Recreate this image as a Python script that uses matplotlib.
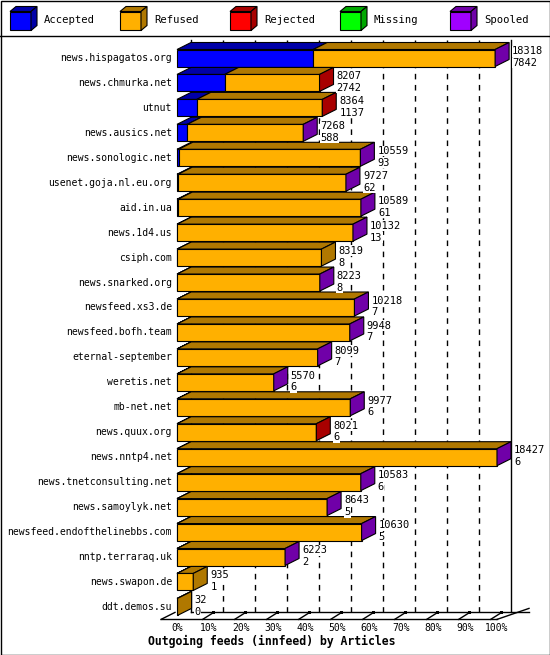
import matplotlib
matplotlib.use("Agg")
import matplotlib.pyplot as plt
from matplotlib.patches import Polygon, Rectangle

hosts = ["news.hispagatos.org","news.chmurka.net","utnut","news.ausics.net","news.sonologic.net",
         "usenet.goja.nl.eu.org","aid.in.ua","news.1d4.us","csiph.com","news.snarked.org",
         "newsfeed.xs3.de","newsfeed.bofh.team","eternal-september","weretis.net","mb-net.net",
         "news.quux.org","news.nntp4.net","news.tnetconsulting.net","news.samoylyk.net",
         "newsfeed.endofthelinebbs.com","nntp.terraraq.uk","news.swapon.de","ddt.demos.su"]
offered = [18318,8207,8364,7268,10559,9727,10589,10132,8319,8223,10218,9948,8099,5570,9977,8021,18427,10583,8643,10630,6223,935,32]
accepted = [7842,2742,1137,588,93,62,61,13,8,8,7,7,7,6,6,6,6,6,5,5,2,1,0]
endcap = ["Spooled","Rejected","Rejected","Spooled","Spooled","Spooled","Spooled","Spooled","Refused",
          "Spooled","Spooled","Spooled","Spooled","Spooled","Spooled","Rejected","Spooled","Spooled",
          "Spooled","Spooled","Spooled","Refused","Refused"]
series = ["Accepted","Refused","Rejected","Missing","Spooled"]
ticks = ["0%","10%","20%","30%","40%","50%","60%","70%","80%","90%","100%"]
title = "Outgoing feeds (innfeed) by Articles"

front = {"Accepted":"#0000FF","Refused":"#FFB000","Rejected":"#FF0000","Missing":"#00FF00","Spooled":"#A000FF"}
dark = {"Accepted":"#0000A8","Refused":"#B07800","Rejected":"#A80000","Missing":"#00A800","Spooled":"#7000A8"}

W, H = 550, 655
fig = plt.figure(figsize=(5.5, 6.55), dpi=100)
ax = fig.add_axes([0, 0, 1, 1])
X0, XS = 177, 3.2
Y0, YS = 58, 24.95
ax.set_xlim((0 - X0) / XS, (W - X0) / XS)
ax.set_ylim((H - Y0) / YS, (0 - Y0) / YS)
ax.axis("off")
px = 1 / XS; py = 1 / YS
DX, DY = 14 * px, -7 * py
BH = 17 * py
mono = "DejaVu Sans Mono"
fs = 7.0
wb = dict(fc="white", ec="none", pad=0.3)

ax.add_patch(Rectangle(((0.5 - X0) / XS, (0.5 - Y0) / YS), (W - 1) * px, (H - 1) * py,
                       fill=False, ec="black", lw=1, zorder=10))
ax.plot([(0 - X0) / XS, (W - X0) / XS], [(36 - Y0) / YS] * 2, color="black", lw=1)

def box3d(x0, x1, yc, h, key, z=3, dx=DX, dy=DY):
    yt, yb = yc - h / 2, yc + h / 2
    ax.add_patch(Polygon([(x0, yt), (x0 + dx, yt + dy), (x1 + dx, yt + dy), (x1, yt)],
                         fc=dark[key], ec="black", lw=0.8, zorder=z))
    ax.add_patch(Polygon([(x0, yt), (x1, yt), (x1, yb), (x0, yb)],
                         fc=front[key], ec="black", lw=0.8, zorder=z))

def side(x1, yc, h, key, z=3, dx=DX, dy=DY):
    yt, yb = yc - h / 2, yc + h / 2
    ax.add_patch(Polygon([(x1, yt), (x1 + dx, yt + dy), (x1 + dx, yb + dy), (x1, yb)],
                         fc=dark[key], ec="black", lw=0.8, zorder=z))

for i, s in enumerate(series):
    lx = (10 + 110 * i - X0) / XS
    yc = (21 - Y0) / YS
    box3d(lx, lx + 21 * px, yc, 19 * py, s, z=5, dx=6 * px, dy=-5 * py)
    side(lx + 21 * px, yc, 19 * py, s, z=5, dx=6 * px, dy=-5 * py)
    ax.text(lx + 34 * px, yc - 1 * py, s, fontsize=7.6, family=mono, va="center", ha="left")

n = len(hosts)
ytop = (40 - Y0) / YS
yfloor_f = (n - 1) + BH / 2 + 4 * py
yfloor_b = yfloor_f + DY
ax.plot([DX, DX], [ytop, yfloor_b], color="black", lw=1, zorder=1)
ax.plot([100 + DX, 100 + DX], [ytop, yfloor_b], color="black", lw=1, zorder=1)
for v in range(10, 100, 10):
    ax.plot([v + DX, v + DX], [ytop, yfloor_b], color="black", lw=1, ls=(0, (4, 4)), zorder=1)
ax.plot([-5, 100], [yfloor_f, yfloor_f], color="black", lw=1, zorder=1)
ax.plot([DX, 100 + DX + 18 * px], [yfloor_b, yfloor_b], color="black", lw=1, zorder=1)
ax.plot([-5, -5 + DX], [yfloor_f, yfloor_b], color="black", lw=1, zorder=1)
ax.plot([100, 100 + DX + 18 * px], [yfloor_f, yfloor_b - 4 * py], color="black", lw=1, zorder=1)
for v in range(10, 101, 10):
    ax.plot([v - 2, v + 1], [yfloor_f, yfloor_b + 1 * py], color="black", lw=1, zorder=1)
    ax.add_patch(Rectangle((v + 1, yfloor_b - 1 * py), 2.5 * px, 3 * py, fc="black", zorder=1))

mx = max(offered)
for r in range(n):
    a = accepted[r] / mx * 100
    t = offered[r] / mx * 100
    segs = []
    if a > 0:
        segs.append((0, a, "Accepted"))
    segs.append((a, t, "Refused"))
    for x0, x1, k in segs:
        box3d(x0, x1, r, BH, k)
    side(t, r, BH, endcap[r])
    lx = t + DX + 3 * px
    ax.text(lx, r - 0.27, str(offered[r]), fontsize=7.5, family=mono, va="center", ha="left",
            zorder=6, bbox=wb)
    ax.text(lx, r + 0.2, str(accepted[r]), fontsize=7.5, family=mono, va="center", ha="left",
            zorder=6, bbox=wb)
    ax.text(-5 * px, r, hosts[r], fontsize=fs, family=mono, va="center", ha="right", zorder=6)

ty = (628 - Y0) / YS
for i, tk in enumerate(ticks):
    ax.text(i * 10, ty, tk, fontsize=fs, family=mono, va="center", ha="center")
ax.text((148 - X0) / XS, (641 - Y0) / YS, title, fontsize=8.3, family=mono, weight="bold",
        va="center", ha="left")

fig.savefig("out.png", dpi=100)
